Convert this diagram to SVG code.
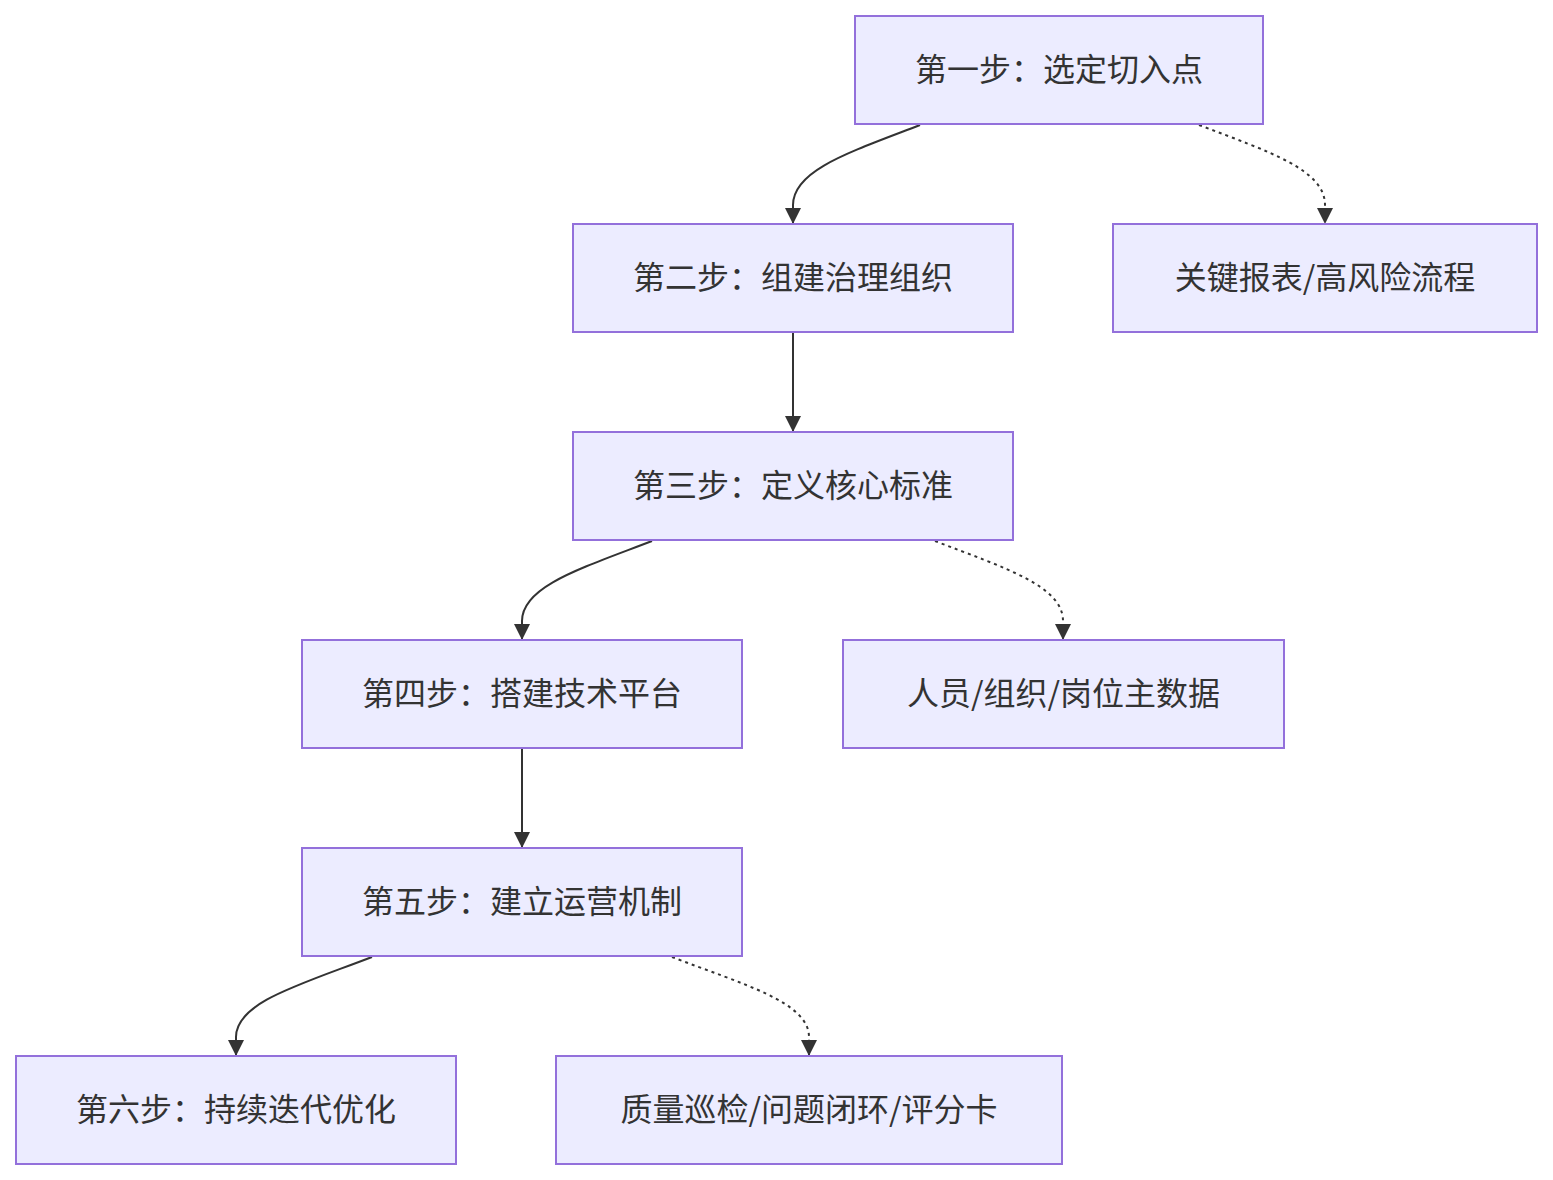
<svg xmlns="http://www.w3.org/2000/svg" width="1553" height="1180" viewBox="0 0 1553 1180">
<defs>
<style>
.node rect{fill:#ECECFF;stroke:#9370DB;stroke-width:2}
.node text{font-family:"Noto Sans CJK SC","Noto Sans",sans-serif;font-size:32px;fill:#333;text-anchor:middle;dominant-baseline:central}
.edge{fill:none;stroke:#333;stroke-width:2}
.dot{stroke-dasharray:3 4}
</style>
<marker id="arr" viewBox="0 0 10 10" refX="10" refY="5" markerWidth="8" markerHeight="8" markerUnits="strokeWidth" orient="auto">
<path d="M0,0 L10,5 L0,10 z" fill="#333"/>
</marker>
</defs>
<rect width="1553" height="1180" fill="#fff"/>
<g id="edges">
<path class="edge" d="M920,125 C850,152 793,170 793,205 L793,224" marker-end="url(#arr)"/>
<path class="edge dot" d="M1199,125 C1270,152 1325,170 1325,205 L1325,224" marker-end="url(#arr)"/>
<path class="edge" d="M793,333 L793,432" marker-end="url(#arr)"/>
<path class="edge" d="M652,541 C582,568 522,586 522,621 L522,640" marker-end="url(#arr)"/>
<path class="edge dot" d="M935,541 C1005,568 1063,586 1063,621 L1063,640" marker-end="url(#arr)"/>
<path class="edge" d="M522,749 L522,848" marker-end="url(#arr)"/>
<path class="edge" d="M372,957 C302,984 236,1002 236,1037 L236,1056" marker-end="url(#arr)"/>
<path class="edge dot" d="M672,957 C742,984 809,1002 809,1037 L809,1056" marker-end="url(#arr)"/>
</g>
<g id="n1" class="node"><rect x="855" y="16" width="408" height="108"/><text x="1059" y="67">第一步：选定切入点</text></g>
<g id="n2" class="node"><rect x="573" y="224" width="440" height="108"/><text x="793" y="275">第二步：组建治理组织</text></g>
<g id="n2b" class="node"><rect x="1113" y="224" width="424" height="108"/><text x="1325" y="275">关键报表/高风险流程</text></g>
<g id="n3" class="node"><rect x="573" y="432" width="440" height="108"/><text x="793" y="483">第三步：定义核心标准</text></g>
<g id="n4" class="node"><rect x="302" y="640" width="440" height="108"/><text x="522" y="691">第四步：搭建技术平台</text></g>
<g id="n3b" class="node"><rect x="843" y="640" width="441" height="108"/><text x="1063.5" y="691">人员/组织/岗位主数据</text></g>
<g id="n5" class="node"><rect x="302" y="848" width="440" height="108"/><text x="522" y="899">第五步：建立运营机制</text></g>
<g id="n6" class="node"><rect x="16" y="1056" width="440" height="108"/><text x="236" y="1107">第六步：持续迭代优化</text></g>
<g id="n5b" class="node"><rect x="556" y="1056" width="506" height="108"/><text x="809" y="1107">质量巡检/问题闭环/评分卡</text></g>
</svg>
